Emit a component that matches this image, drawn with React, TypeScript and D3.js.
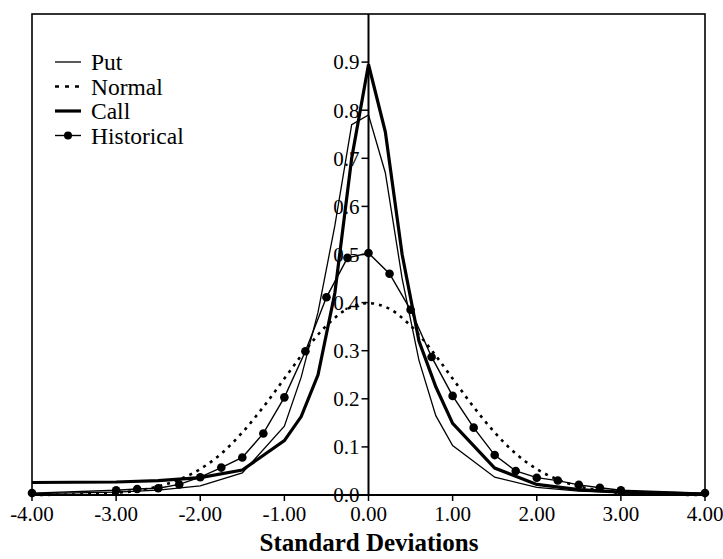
import * as d3 from "d3";

// Put / Call implied densities
const putX = [-4, -3, -2.5, -2, -1.5, -1, -0.8, -0.6, -0.4, -0.2, 0, 0.2, 0.4, 0.6, 0.8, 1, 1.5, 2, 2.5, 3, 4];
const putY = [0.003, 0.006, 0.01, 0.019, 0.046, 0.143, 0.245, 0.38, 0.56, 0.77, 0.79, 0.67, 0.45, 0.28, 0.165, 0.103, 0.037, 0.016, 0.008, 0.005, 0.002];

const callX = [-4, -3, -2.5, -2, -1.5, -1, -0.8, -0.6, -0.4, -0.2, 0, 0.2, 0.4, 0.6, 0.8, 1, 1.5, 2, 2.5, 3, 4];
const callY = [0.026, 0.027, 0.03, 0.036, 0.052, 0.113, 0.163, 0.25, 0.42, 0.7, 0.895, 0.755, 0.5, 0.32, 0.225, 0.149, 0.056, 0.022, 0.011, 0.006, 0.002];

const histX = [-4, -3, -2.75, -2.5, -2.25, -2, -1.75, -1.5, -1.25, -1, -0.75, -0.5, -0.25, 0, 0.25, 0.5, 0.75, 1, 1.25, 1.5, 1.75, 2, 2.25, 2.5, 2.75, 3, 4];
const histY = [0.004, 0.01, 0.0125, 0.014, 0.022, 0.037, 0.057, 0.078, 0.128, 0.203, 0.299, 0.411, 0.493, 0.503, 0.46, 0.385, 0.287, 0.206, 0.14, 0.083, 0.05, 0.036, 0.03, 0.021, 0.015, 0.01, 0.004];

const normX = [-4, -3.75, -3.5, -3.25, -3, -2.75, -2.5, -2.25, -2, -1.75, -1.5, -1.25, -1, -0.75, -0.5, -0.25, 0, 0.25, 0.5, 0.75, 1, 1.25, 1.5, 1.75, 2, 2.25, 2.5, 2.75, 3, 3.25, 3.5, 3.75, 4];
const normY = [0.0001, 0.0004, 0.0009, 0.002, 0.0044, 0.009, 0.018, 0.032, 0.054, 0.086, 0.13, 0.183, 0.242, 0.301, 0.352, 0.387, 0.399, 0.387, 0.352, 0.301, 0.242, 0.183, 0.13, 0.086, 0.054, 0.032, 0.018, 0.009, 0.0044, 0.002, 0.0009, 0.0004, 0.0001];

const xTicks = [-4, -3, -2, -1, 0, 1, 2, 3, 4];
const yTicks = [0, 0.1, 0.2, 0.3, 0.4, 0.5, 0.6, 0.7, 0.8, 0.9];

const legendItems = ["Put", "Normal", "Call", "Historical"];

const W = 723;
const H = 559;
const left = 32, right = 705, top = 14, bottom = 495;

// hyphen instead of the unicode minus d3 puts in
const fmtX = (v: number) => d3.format(".2f")(v).replace("\u2212", "-");

export default function App() {
  const x = d3.scaleLinear().domain([-4, 4]).range([left, right]);
  const y = d3.scaleLinear().domain([0, 1]).range([bottom, top]);

  const zip = (xs: number[], ys: number[]) => xs.map((v, i) => [v, ys[i]] as [number, number]);
  const line = d3.line<[number, number]>().x((d) => x(d[0])).y((d) => y(d[1]));
  const smooth = d3.line<[number, number]>().x((d) => x(d[0])).y((d) => y(d[1])).curve(d3.curveCatmullRom);

  const font = "'Liberation Serif', 'Times New Roman', serif";

  return (
    <svg width={W} height={H} style={{ position: "absolute", left: 0, top: 0, background: "#fff" }} fontFamily={font}>
      {/* frame */}
      <rect x={left} y={top} width={right - left} height={bottom - top} fill="none" stroke="#000" strokeWidth={1.6} />
      <line x1={left} x2={right} y1={bottom} y2={bottom} stroke="#000" strokeWidth={2} />

      {/* series */}
      <path d={smooth(zip(normX, normY)) || ""} fill="none" stroke="#000" strokeWidth={2.6} strokeDasharray="3,5" />
      <path d={line(zip(putX, putY)) || ""} fill="none" stroke="#000" strokeWidth={1.3} />
      <path d={line(zip(histX, histY)) || ""} fill="none" stroke="#000" strokeWidth={1.4} />
      {histX.map((v, i) => (
        <circle key={i} cx={x(v)} cy={y(histY[i])} r={4.3} fill="#000" />
      ))}
      <path d={line(zip(callX, callY)) || ""} fill="none" stroke="#000" strokeWidth={3.2} />

      {/* y axis at 0 */}
      <line x1={x(0)} x2={x(0)} y1={top} y2={bottom} stroke="#000" strokeWidth={2} />
      {yTicks.map((t) => (
        <g key={t}>
          <line x1={x(0) - 7} x2={x(0)} y1={y(t)} y2={y(t)} stroke="#000" strokeWidth={1.5} />
          <text x={x(0) - 9} y={y(t)} dy="0.35em" textAnchor="end" fontSize={21} fill="#000">
            {d3.format(".1f")(t)}
          </text>
        </g>
      ))}

      {/* x ticks */}
      {xTicks.map((t) => (
        <g key={t}>
          <line x1={x(t)} x2={x(t)} y1={bottom} y2={bottom + 6} stroke="#000" strokeWidth={1.5} />
          <text x={x(t)} y={521} textAnchor="middle" fontSize={21} fill="#000">
            {fmtX(t)}
          </text>
        </g>
      ))}

      <text x={369} y={551} textAnchor="middle" fontSize={25} fontWeight="bold" fill="#000">
        Standard Deviations
      </text>

      {/* legend */}
      {legendItems.map((name, i) => {
        const ly = 62 + i * 24.5;
        return (
          <g key={name}>
            {name === "Put" && <line x1={55} x2={81} y1={ly} y2={ly} stroke="#000" strokeWidth={1.3} />}
            {name === "Normal" && (
              <line x1={55} x2={81} y1={ly} y2={ly} stroke="#000" strokeWidth={2.6} strokeDasharray="4,6" />
            )}
            {name === "Call" && <line x1={55} x2={81} y1={ly} y2={ly} stroke="#000" strokeWidth={3.2} />}
            {name === "Historical" && (
              <g>
                <line x1={55} x2={81} y1={ly} y2={ly} stroke="#000" strokeWidth={1.4} />
                <circle cx={68} cy={ly} r={4} fill="#000" />
              </g>
            )}
            <text x={91} y={ly} dy="0.35em" fontSize={23.5} fill="#000">
              {name}
            </text>
          </g>
        );
      })}
    </svg>
  );
}
